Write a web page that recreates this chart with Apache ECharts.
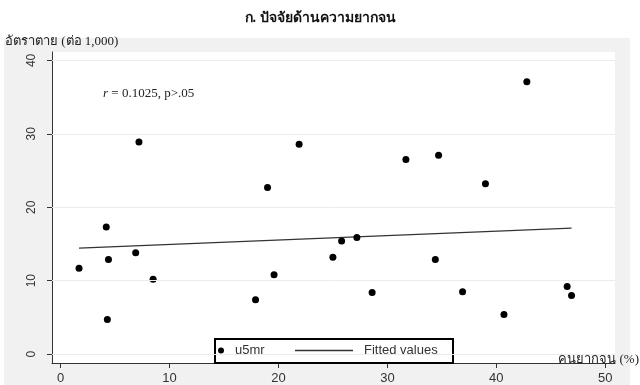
<!DOCTYPE html>
<html>
<head>
<meta charset="utf-8">
<script src="https://cdn.jsdelivr.net/npm/echarts@6/dist/echarts.min.js"></script>
<style>html,body{margin:0;padding:0;background:#fff}#c{width:640px;height:385px}</style>
</head>
<body>
<div id="c"></div>
<script>
// Data
const povertyPct = [1.7, 4.2, 4.4, 4.3, 6.9, 7.2, 8.5, 17.9, 19.0, 19.6, 21.9, 25.0, 25.8, 27.2, 28.6, 31.7, 34.7, 34.4, 36.9, 39.0, 40.7, 42.8, 46.5, 46.9];
const u5mr       = [11.7, 17.3, 12.9, 4.7, 13.8, 28.9, 10.2, 7.4, 22.7, 10.8, 28.6, 13.2, 15.4, 15.9, 8.4, 26.5, 27.1, 12.9, 8.5, 23.2, 5.4, 37.1, 9.2, 8.0];
const fitX = [1.7, 46.9];
const fitY = [14.45, 17.15];
const xTicks = [0, 10, 20, 30, 40, 50];
const yTicks = [0, 10, 20, 30, 40];
const titleText = 'ก. ปัจจัยด้านความยากจน';
const yTitle = 'อัตราตาย (ต่อ 1,000)';
const xTitle = 'คนยากจน (%)';
const noteText = '{i|r} = 0.1025, p>.05';

const chart = echarts.init(document.getElementById('c'), null, {renderer: 'canvas'});
const scatterData = povertyPct.map((x, i) => [x, u5mr[i]]);
const fitData = fitX.map((x, i) => [x, fitY[i]]);
const sans = 'Liberation Sans, Arial, sans-serif';
const serif = 'Liberation Serif, Times New Roman, serif';

chart.setOption({
  animation: false,
  backgroundColor: '#ffffff',
  graphic: [
    {type: 'rect', z: -10, silent: true, shape: {x: 4, y: 38, width: 626, height: 347}, style: {fill: '#f1f1f1'}},
    {type: 'text', z: 10, left: 'center', top: 11, style: {text: titleText, font: 'bold 14px ' + serif, fill: '#111'}},
    {type: 'text', z: 10, left: 5, top: 35, style: {text: yTitle, font: '13px ' + serif, fill: '#222'}},
    {type: 'text', z: 10, right: 1, top: 353, style: {text: xTitle, font: '13px ' + serif, fill: '#222'}},
    {type: 'text', z: 10, left: 103, top: 87, style: {text: noteText, font: '13px ' + serif, fill: '#222', rich: {i: {fontStyle: 'italic', font: 'italic 13px ' + serif, fill: '#222'}}}},
    {type: 'rect', z: 5, shape: {x: 215, y: 339, width: 238, height: 24}, style: {fill: '#fff', stroke: '#000', lineWidth: 2}}
  ],
  grid: {left: 52, top: 52, right: 25, bottom: 19, show: true, backgroundColor: '#ffffff', borderWidth: 0},
  xAxis: {
    type: 'value', min: -0.78, max: 50.89,
    axisLine: {show: true, onZero: false, lineStyle: {color: '#333', width: 1}},
    axisTick: {show: true, length: 5, customValues: xTicks, lineStyle: {color: '#333'}},
    axisLabel: {customValues: xTicks, margin: 9, fontSize: 13, fontFamily: sans, color: '#333'},
    splitLine: {show: false}
  },
  yAxis: {
    type: 'value', min: -1.21, max: 41.15,
    axisLine: {show: true, onZero: false, lineStyle: {color: '#333', width: 1}},
    axisTick: {show: true, length: 5, customValues: yTicks, lineStyle: {color: '#333'}},
    axisLabel: {customValues: yTicks, rotate: 90, margin: 14, fontSize: 12, fontFamily: sans, color: '#333'},
    splitLine: {show: false}
  },
  legend: [
    {data: [{name: 'u5mr', icon: 'circle'}], left: 218, top: 344, itemWidth: 6, itemHeight: 6, itemGap: 0, padding: 0, z: 20,
     textStyle: {fontSize: 13, fontFamily: sans, color: '#333', padding: [0, 0, 0, 6]}},
    {data: [{name: 'Fitted values', icon: 'path://M0,0h58v1.6h-58z'}], left: 295, top: 344, itemWidth: 58, itemHeight: 6, padding: 0, z: 20,
     textStyle: {fontSize: 13, fontFamily: sans, color: '#333', padding: [0, 0, 0, 6]}}
  ],
  series: [
    {name: 'gridlines', type: 'line', data: [], silent: true,
     markLine: {silent: true, symbol: 'none', label: {show: false}, lineStyle: {color: '#ebebeb', width: 1, type: 'solid'},
       data: yTicks.map(v => ({yAxis: v}))}},
    {name: 'u5mr', type: 'scatter', data: scatterData, symbolSize: 7, itemStyle: {color: '#000', opacity: 1}, z: 3},
    {name: 'Fitted values', type: 'line', data: fitData, showSymbol: false, symbol: 'none',
     lineStyle: {color: '#333', width: 1.2}, itemStyle: {color: '#333'}, z: 2}
  ]
});
</script>
</body>
</html>
